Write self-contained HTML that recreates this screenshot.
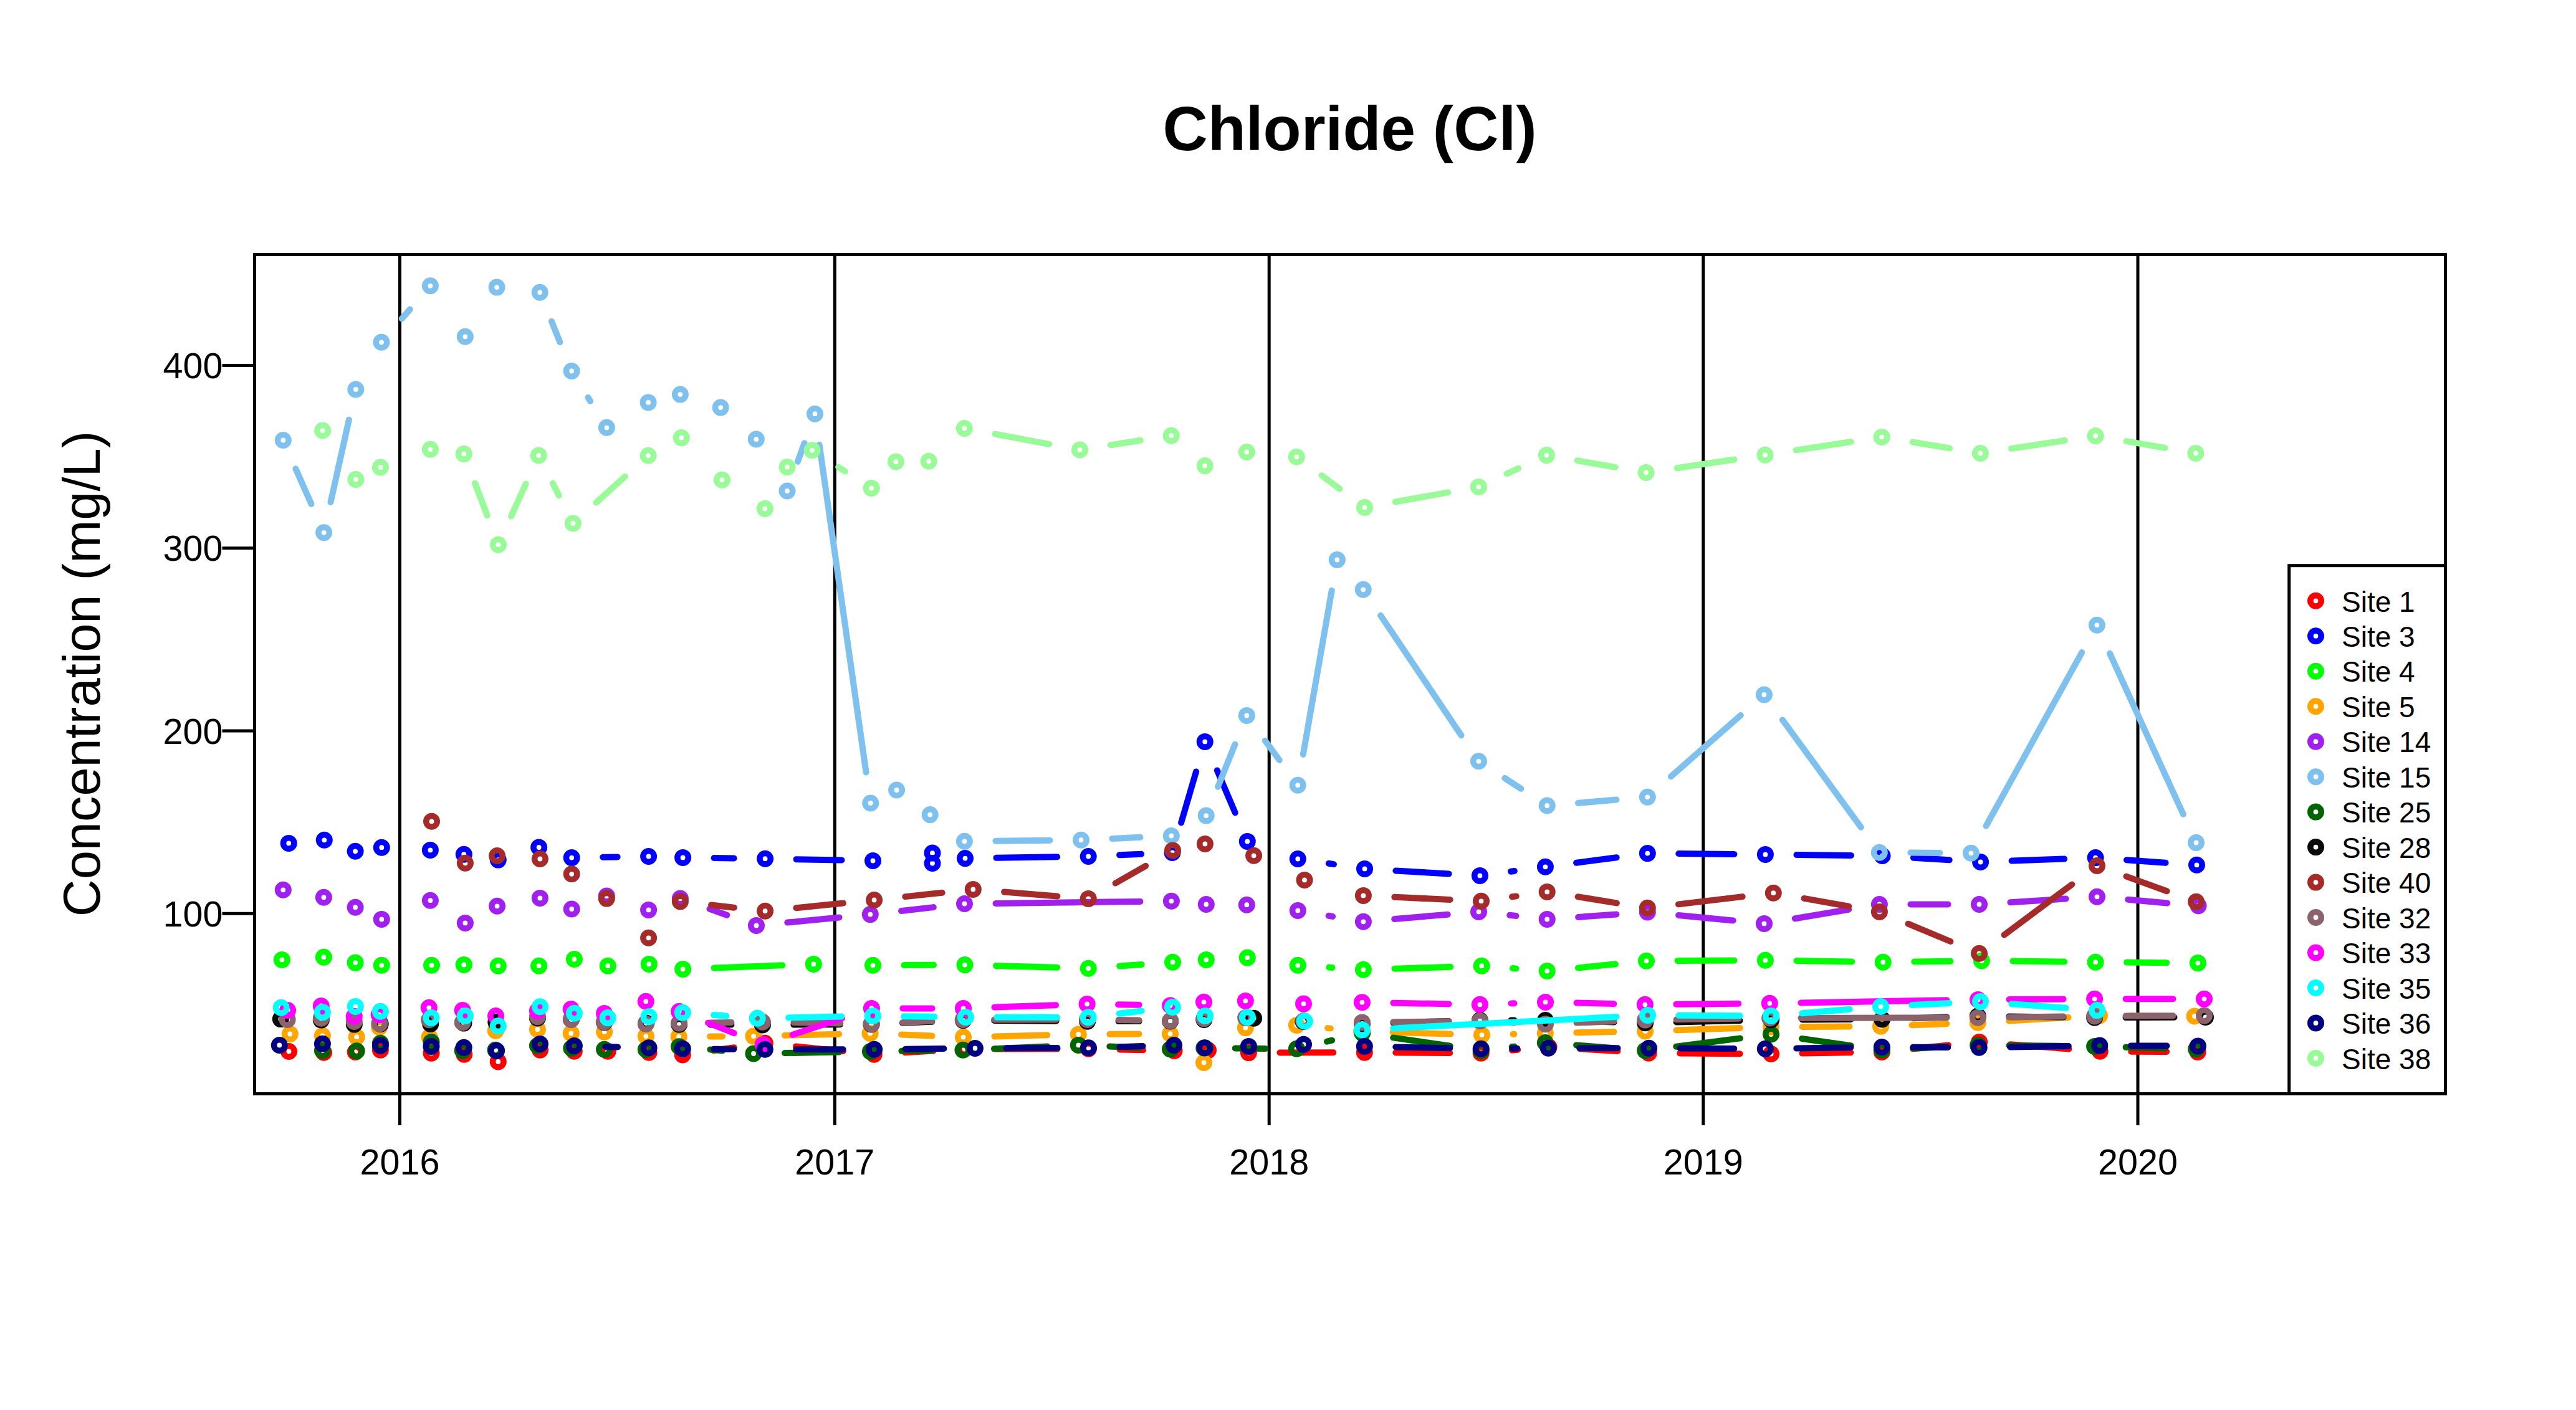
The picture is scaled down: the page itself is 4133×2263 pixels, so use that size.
<!DOCTYPE html>
<html lang="en"><head><meta charset="utf-8"><title>Chloride (Cl)</title>
<style>html,body{margin:0;padding:0;background:#fff}body{width:4133px;height:2263px;overflow:hidden}svg{display:block}text{font-family:"Liberation Sans",sans-serif;fill:#000}.ax{font-size:57.5px}.lg{font-size:46px}.k{stroke:#000;stroke-width:5;fill:none}.s{fill:none;stroke-width:10;stroke-linecap:round}.s circle{stroke-width:9.6}</style></head><body>
<svg width="4133" height="2263" viewBox="0 0 4133 2263">
<rect width="4133" height="2263" fill="#fff"/>
<text x="2165.5" y="240.7" text-anchor="middle" font-size="100" font-weight="bold">Chloride (Cl)</text>
<text transform="translate(160,1081.5) rotate(-90)" text-anchor="middle" font-size="83">Concentration (mg/L)</text>
<path class="k" d="M641.5 408.5V1806M1339.3 408.5V1806M2036.2 408.5V1806M2732.8 408.5V1806M3430 408.5V1806"/>
<text class="ax" x="641.5" y="1884.7" text-anchor="middle">2016</text>
<text class="ax" x="1339.3" y="1884.7" text-anchor="middle">2017</text>
<text class="ax" x="2036.2" y="1884.7" text-anchor="middle">2018</text>
<text class="ax" x="2732.8" y="1884.7" text-anchor="middle">2019</text>
<text class="ax" x="3430" y="1884.7" text-anchor="middle">2020</text>
<path class="k" d="M356.5 586.6H408.5M356.5 879.8H408.5M356.5 1173H408.5M356.5 1466.2H408.5"/>
<text class="ax" x="357.5" y="607.2" text-anchor="end">400</text>
<text class="ax" x="357.5" y="900.4" text-anchor="end">300</text>
<text class="ax" x="357.5" y="1193.6" text-anchor="end">200</text>
<text class="ax" x="357.5" y="1486.8" text-anchor="end">100</text>
<g class="s" stroke="#FF0000">
<path d="M1144.7 1686L1177.8 1681.3M1277 1679.4L1352.6 1687.2M1452.2 1689.3L1497.6 1686.5M1597.5 1683.4L1696.4 1683.4M1796.4 1684.4L1834 1685.3M2053.4 1689.5L2139.3 1689.3M2239.3 1689.5L2326.2 1689.9M2426 1685.6L2435.2 1684.8M2534.9 1683.3L2595.3 1687.1M2695.2 1690.5L2791.6 1691.2M2891.6 1690.6L2969.3 1689.3M3069 1683.3L3125.9 1677.5M3225.5 1676.2L3319.4 1683.5M3419.3 1687.7L3476.1 1688"/>
<circle cx="463.5" cy="1687.5" r="8.7"/><circle cx="519.5" cy="1689.2" r="8.7"/><circle cx="570.2" cy="1688.4" r="8.7"/><circle cx="610.4" cy="1685.3" r="8.7"/><circle cx="692" cy="1690.2" r="8.7"/><circle cx="744.7" cy="1692.3" r="8.7"/><circle cx="799.3" cy="1703.9" r="8.7"/><circle cx="866.5" cy="1685.3" r="8.7"/><circle cx="921.3" cy="1687.3" r="8.7"/><circle cx="975.2" cy="1687.3" r="8.7"/><circle cx="1041.1" cy="1689.2" r="8.7"/><circle cx="1095.2" cy="1693" r="8.7"/><circle cx="1227.3" cy="1674.3" r="8.7"/><circle cx="1402.3" cy="1692.3" r="8.7"/><circle cx="1547.5" cy="1683.5" r="8.7"/><circle cx="1746.4" cy="1683.3" r="8.7"/><circle cx="1884" cy="1686.4" r="8.7"/><circle cx="1938.5" cy="1685.6" r="8.7"/><circle cx="2003.4" cy="1689.6" r="8.7"/><circle cx="2189.3" cy="1689.2" r="8.7"/><circle cx="2376.2" cy="1690.2" r="8.7"/><circle cx="2485" cy="1680.2" r="8.7"/><circle cx="2645.2" cy="1690.2" r="8.7"/><circle cx="2841.6" cy="1691.5" r="8.7"/><circle cx="3019.3" cy="1688.4" r="8.7"/><circle cx="3175.6" cy="1672.4" r="8.7"/><circle cx="3369.3" cy="1687.3" r="8.7"/><circle cx="3526.1" cy="1688.4" r="8.7"/>
</g>
<g class="s" stroke="#0000FF">
<path d="M967.2 1375.7L990.6 1375.4M1145.6 1377.1L1177.6 1377.5M1277.6 1379.2L1350.5 1380.5M1598.5 1376.8L1696.2 1375.3M1796.1 1372.2L1831.1 1370.7M1895.1 1320.4L1919.1 1238.4M1952.8 1236.4L1981.7 1304.4M2131.8 1385.8L2140 1387.1M2239.4 1397.4L2324.5 1402.4M2424 1398.7L2429.8 1398M2529 1384.7L2593.7 1376.2M2693.3 1370.1L2782.4 1370.9M2882.4 1372L2970 1372.9M3069.9 1376.7L3127.7 1380.3M3227.6 1381.6L3312.1 1378.5M3412 1380.2L3474.6 1384.7"/>
<circle cx="463.2" cy="1353.4" r="8.7"/><circle cx="520.3" cy="1348.3" r="8.7"/><circle cx="570.1" cy="1366.3" r="8.7"/><circle cx="612.3" cy="1360.2" r="8.7"/><circle cx="690.4" cy="1364.4" r="8.7"/><circle cx="744.3" cy="1371.2" r="8.7"/><circle cx="799.3" cy="1380.1" r="8.7"/><circle cx="864.6" cy="1360" r="8.7"/><circle cx="917.2" cy="1376.6" r="8.7"/><circle cx="1040.6" cy="1374.5" r="8.7"/><circle cx="1095.6" cy="1376.4" r="8.7"/><circle cx="1227.6" cy="1378.2" r="8.7"/><circle cx="1400.5" cy="1381.5" r="8.7"/><circle cx="1496" cy="1385.5" r="8.7"/><circle cx="1496" cy="1369.1" r="8.7"/><circle cx="1548.5" cy="1377.6" r="8.7"/><circle cx="1746.2" cy="1374.5" r="8.7"/><circle cx="1881" cy="1368.4" r="8.7"/><circle cx="1933.2" cy="1190.4" r="8.7"/><circle cx="2001.3" cy="1350.4" r="8.7"/><circle cx="2082.3" cy="1378.5" r="8.7"/><circle cx="2189.5" cy="1394.4" r="8.7"/><circle cx="2374.4" cy="1405.4" r="8.7"/><circle cx="2479.4" cy="1391.3" r="8.7"/><circle cx="2643.3" cy="1369.6" r="8.7"/><circle cx="2832.4" cy="1371.4" r="8.7"/><circle cx="3020" cy="1373.5" r="8.7"/><circle cx="3177.6" cy="1383.5" r="8.7"/><circle cx="3362.1" cy="1376.6" r="8.7"/><circle cx="3524.5" cy="1388.3" r="8.7"/>
</g>
<g class="s" stroke="#00FF00">
<path d="M1145.6 1553.5L1255.3 1549.3M1450.5 1549.1L1498 1548.8M1598 1550L1696.2 1552.8M1796.1 1550.5L1831.6 1547.9M2132.2 1552.6L2137.5 1553M2237.4 1554.7L2327.2 1551.8M2427 1554.1L2432.4 1554.5M2531.9 1553.4L2591.8 1547.3M2691.5 1542L2782.4 1541.6M2882.4 1542.1L2971.2 1543.4M3071.2 1543.5L3129.4 1542.7M3229.4 1542.6L3312.1 1543.6M3412.1 1544.6L3476.4 1545.2"/>
<circle cx="452.4" cy="1540.4" r="8.7"/><circle cx="519.4" cy="1536.2" r="8.7"/><circle cx="570.1" cy="1545.1" r="8.7"/><circle cx="612.3" cy="1549.3" r="8.7"/><circle cx="692.5" cy="1549.3" r="8.7"/><circle cx="744.3" cy="1548.4" r="8.7"/><circle cx="799.3" cy="1550.2" r="8.7"/><circle cx="864.6" cy="1550.2" r="8.7"/><circle cx="921.4" cy="1539.5" r="8.7"/><circle cx="975.3" cy="1550.2" r="8.7"/><circle cx="1041.3" cy="1547.4" r="8.7"/><circle cx="1095.6" cy="1555.4" r="8.7"/><circle cx="1305.3" cy="1547.4" r="8.7"/><circle cx="1400.5" cy="1549.3" r="8.7"/><circle cx="1548" cy="1548.6" r="8.7"/><circle cx="1746.2" cy="1554.2" r="8.7"/><circle cx="1881.5" cy="1544.2" r="8.7"/><circle cx="1935.3" cy="1540.4" r="8.7"/><circle cx="2001.3" cy="1537.1" r="8.7"/><circle cx="2082.3" cy="1549.3" r="8.7"/><circle cx="2187.4" cy="1556.3" r="8.7"/><circle cx="2377.2" cy="1550.2" r="8.7"/><circle cx="2482.2" cy="1558.4" r="8.7"/><circle cx="2641.5" cy="1542.3" r="8.7"/><circle cx="2832.4" cy="1541.3" r="8.7"/><circle cx="3021.2" cy="1544.2" r="8.7"/><circle cx="3179.4" cy="1542" r="8.7"/><circle cx="3362.1" cy="1544.2" r="8.7"/><circle cx="3526.4" cy="1545.6" r="8.7"/>
</g>
<g class="s" stroke="#FFA500">
<path d="M1139.1 1663.6L1159 1663.4M1259 1661.8L1346.1 1659.7M1446.1 1660.5L1495.5 1662.5M1595.5 1663.4L1680.3 1661.2M1780.3 1659.7L1827.5 1659.5M2130.2 1650.1L2134.8 1650.6M2234.6 1656.8L2327.5 1659.6M2427.5 1659.8L2429.3 1659.7M2529.3 1657.3L2589.6 1656.1M2689.6 1653.3L2791.5 1650M2891.5 1648L2967.5 1647.5M3067.5 1645.3L3123.3 1643.2M3223.2 1638.4L3318.6 1632.9M3418.5 1630.3L3471 1630.7"/>
<circle cx="465.3" cy="1659.5" r="8.7"/><circle cx="517.4" cy="1662.3" r="8.7"/><circle cx="572.2" cy="1664.2" r="8.7"/><circle cx="608.7" cy="1648.8" r="8.7"/><circle cx="689" cy="1664.6" r="8.7"/><circle cx="743" cy="1640" r="8.7"/><circle cx="795.3" cy="1654.2" r="8.7"/><circle cx="862.4" cy="1652.2" r="8.7"/><circle cx="916.3" cy="1658.4" r="8.7"/><circle cx="969.6" cy="1656.1" r="8.7"/><circle cx="1036.3" cy="1663.1" r="8.7"/><circle cx="1089.1" cy="1663.9" r="8.7"/><circle cx="1209" cy="1663.1" r="8.7"/><circle cx="1396.1" cy="1658.4" r="8.7"/><circle cx="1545.5" cy="1664.6" r="8.7"/><circle cx="1730.3" cy="1660" r="8.7"/><circle cx="1877.5" cy="1659.2" r="8.7"/><circle cx="1931.5" cy="1705.5" r="8.7"/><circle cx="1998.3" cy="1649.6" r="8.7"/><circle cx="2080.4" cy="1645.4" r="8.7"/><circle cx="2184.6" cy="1655.3" r="8.7"/><circle cx="2377.5" cy="1661.1" r="8.7"/><circle cx="2479.3" cy="1658.4" r="8.7"/><circle cx="2639.6" cy="1655" r="8.7"/><circle cx="2841.5" cy="1648.3" r="8.7"/><circle cx="3017.5" cy="1647.2" r="8.7"/><circle cx="3173.3" cy="1641.3" r="8.7"/><circle cx="3368.5" cy="1630" r="8.7"/><circle cx="3521" cy="1631" r="8.7"/>
</g>
<g class="s" stroke="#A020F0">
<path d="M1138.5 1458.8L1166.4 1468.7M1263.3 1480.6L1346.5 1472.4M1446 1462L1497.8 1456.1M1597.5 1449.9L1829.4 1446.9M2131.6 1469.8L2138.1 1470.9M2237.2 1475L2322.7 1467.7M2422.2 1468.8L2432.5 1470M2532.1 1471.9L2593.4 1467.5M2693.1 1468.9L2780.7 1477.5M2879.8 1474.2L2966.1 1459.7M3065.4 1451.5L3125.5 1451.5M3225.4 1448.3L3314.6 1442.5M3414.3 1443.7L3477.3 1449.4"/>
<circle cx="454.3" cy="1428.3" r="8.7"/><circle cx="519.4" cy="1440.2" r="8.7"/><circle cx="570.1" cy="1456.2" r="8.7"/><circle cx="612.3" cy="1475.4" r="8.7"/><circle cx="690.4" cy="1445.2" r="8.7"/><circle cx="746.4" cy="1481.4" r="8.7"/><circle cx="797.6" cy="1454.3" r="8.7"/><circle cx="866.4" cy="1441.4" r="8.7"/><circle cx="917.2" cy="1459" r="8.7"/><circle cx="973.3" cy="1437.9" r="8.7"/><circle cx="1040.6" cy="1460.4" r="8.7"/><circle cx="1091.4" cy="1442.1" r="8.7"/><circle cx="1213.5" cy="1485.4" r="8.7"/><circle cx="1396.3" cy="1467.6" r="8.7"/><circle cx="1547.5" cy="1450.5" r="8.7"/><circle cx="1879.4" cy="1446.3" r="8.7"/><circle cx="1935.3" cy="1451.5" r="8.7"/><circle cx="2000.3" cy="1452.2" r="8.7"/><circle cx="2082.3" cy="1461.4" r="8.7"/><circle cx="2187.4" cy="1479.3" r="8.7"/><circle cx="2372.5" cy="1463.4" r="8.7"/><circle cx="2482.2" cy="1475.4" r="8.7"/><circle cx="2643.3" cy="1464" r="8.7"/><circle cx="2830.5" cy="1482.4" r="8.7"/><circle cx="3015.4" cy="1451.5" r="8.7"/><circle cx="3175.5" cy="1451.5" r="8.7"/><circle cx="3364.5" cy="1439.3" r="8.7"/><circle cx="3527.1" cy="1453.8" r="8.7"/>
</g>
<g class="s" stroke="#7EC0EE">
<path d="M474.4 752.3L499.5 809M530.5 806L559.9 673.8M644.7 511.5L657.7 496.6M884.9 515.7L898.4 549.1M943.4 638L947.1 643.8M1279.9 740.9L1290.6 711.3M1314.6 713.7L1389.6 1239.5M1597.4 1349.7L1684.5 1348.8M1784.4 1345.9L1829.4 1343.8M1954 1262.8L1981.5 1194.7M2029.8 1188.7L2052.7 1219.9M2090.8 1210.9L2136.7 947.7M2215.1 987.8L2344.5 1180.3M2414.4 1249L2440.2 1265.8M2532 1288.8L2593.5 1283.5M2680.9 1246.3L2792.8 1148M2859.9 1155.4L2985.8 1327.8M3065.3 1368.6L3112.4 1368.9M3186.6 1325.5L3340.2 1047.1M3385.1 1048.8L3502.9 1307"/>
<circle cx="454.3" cy="706.5" r="8.7"/><circle cx="519.6" cy="854.8" r="8.7"/><circle cx="570.8" cy="625" r="8.7"/><circle cx="612" cy="549.3" r="8.7"/><circle cx="690.4" cy="458.8" r="8.7"/><circle cx="746.3" cy="540.3" r="8.7"/><circle cx="797.1" cy="461.1" r="8.7"/><circle cx="866.2" cy="469.3" r="8.7"/><circle cx="917.1" cy="595.5" r="8.7"/><circle cx="973.4" cy="686.3" r="8.7"/><circle cx="1040.1" cy="645.9" r="8.7"/><circle cx="1091.4" cy="633.1" r="8.7"/><circle cx="1156.2" cy="654.1" r="8.7"/><circle cx="1213.3" cy="704.9" r="8.7"/><circle cx="1263" cy="788" r="8.7"/><circle cx="1307.5" cy="664.2" r="8.7"/><circle cx="1396.7" cy="1289" r="8.7"/><circle cx="1438.6" cy="1268" r="8.7"/><circle cx="1492.2" cy="1307.6" r="8.7"/><circle cx="1547.4" cy="1350.3" r="8.7"/><circle cx="1734.5" cy="1348.2" r="8.7"/><circle cx="1879.3" cy="1341.5" r="8.7"/><circle cx="1935.2" cy="1309.1" r="8.7"/><circle cx="2000.3" cy="1148.4" r="8.7"/><circle cx="2082.2" cy="1260.2" r="8.7"/><circle cx="2145.3" cy="898.4" r="8.7"/><circle cx="2187.2" cy="946.3" r="8.7"/><circle cx="2372.4" cy="1221.8" r="8.7"/><circle cx="2482.2" cy="1293" r="8.7"/><circle cx="2643.3" cy="1279.3" r="8.7"/><circle cx="2830.4" cy="1115" r="8.7"/><circle cx="3015.3" cy="1368.2" r="8.7"/><circle cx="3162.4" cy="1369.3" r="8.7"/><circle cx="3364.4" cy="1003.3" r="8.7"/><circle cx="3523.6" cy="1352.5" r="8.7"/>
</g>
<g class="s" stroke="#006400">
<path d="M1139.4 1684.4L1159.2 1686.3M1259 1690.1L1346.4 1688.5M1446.4 1686.8L1495 1686.1M1595 1683.2L1680.3 1679.5M1780.3 1679.5L1827.5 1681.6M1981.8 1682.4L2030.4 1682.9M2129 1671.7L2137.1 1669.7M2235.2 1665.4L2326.7 1678.8M2425.8 1680L2429.7 1679.6M2529.1 1677.4L2589.8 1682.2M2689.2 1679.7L2791.9 1666.4M2891 1667L2969.8 1678.3M3069.2 1682.7L3123.7 1680M3223.6 1677.9L3310.6 1678.9M3410.6 1680.7L3473.6 1682.4"/>
<circle cx="517.4" cy="1686.1" r="8.7"/><circle cx="572.2" cy="1686.8" r="8.7"/><circle cx="610.4" cy="1674.3" r="8.7"/><circle cx="692" cy="1672.4" r="8.7"/><circle cx="742.2" cy="1686.1" r="8.7"/><circle cx="795" cy="1685.3" r="8.7"/><circle cx="862.4" cy="1678.3" r="8.7"/><circle cx="916.8" cy="1682.2" r="8.7"/><circle cx="969.6" cy="1684.3" r="8.7"/><circle cx="1036.3" cy="1684.5" r="8.7"/><circle cx="1089.6" cy="1679.7" r="8.7"/><circle cx="1209" cy="1691" r="8.7"/><circle cx="1396.4" cy="1687.6" r="8.7"/><circle cx="1545" cy="1685.3" r="8.7"/><circle cx="1730.3" cy="1677.4" r="8.7"/><circle cx="1877.5" cy="1683.7" r="8.7"/><circle cx="1931.8" cy="1682" r="8.7"/><circle cx="2080.4" cy="1683.3" r="8.7"/><circle cx="2185.7" cy="1658.1" r="8.7"/><circle cx="2376.2" cy="1686.1" r="8.7"/><circle cx="2479.3" cy="1673.5" r="8.7"/><circle cx="2639.6" cy="1686.1" r="8.7"/><circle cx="2841.5" cy="1660" r="8.7"/><circle cx="3019.3" cy="1685.3" r="8.7"/><circle cx="3173.6" cy="1677.4" r="8.7"/><circle cx="3360.6" cy="1679.4" r="8.7"/><circle cx="3523.6" cy="1683.7" r="8.7"/>
</g>
<g class="s" stroke="#0A0A0A">
<path d="M1139.6 1644.4L1173.4 1644.6M1273.4 1644.6L1348 1644.3M1448 1641.8L1495.3 1639.8M1595.3 1638L1694.6 1638.8M1794.6 1639.1L1827.6 1639.1M2235.4 1641.5L2324.4 1639M2424.4 1637.5L2429.5 1637.5M2529.5 1638.8L2589.6 1640.5M2689.6 1640.5L2791.6 1638M2891.6 1636.5L2969.6 1636.1M3069.6 1634.2L3123.3 1632.5M3223.3 1631.5L3310.6 1632.6M3410.6 1633.1L3488.5 1632.7"/>
<circle cx="450.3" cy="1635.6" r="8.7"/><circle cx="515.3" cy="1637.1" r="8.7"/><circle cx="568.3" cy="1644.1" r="8.7"/><circle cx="610.2" cy="1643.4" r="8.7"/><circle cx="690.7" cy="1643.4" r="8.7"/><circle cx="744" cy="1642.1" r="8.7"/><circle cx="795.8" cy="1640.6" r="8.7"/><circle cx="862.4" cy="1634" r="8.7"/><circle cx="916.5" cy="1636" r="8.7"/><circle cx="969.6" cy="1640.9" r="8.7"/><circle cx="1036.8" cy="1642.1" r="8.7"/><circle cx="1089.6" cy="1644.1" r="8.7"/><circle cx="1223.4" cy="1644.9" r="8.7"/><circle cx="1398" cy="1644" r="8.7"/><circle cx="1545.3" cy="1637.6" r="8.7"/><circle cx="1744.6" cy="1639.2" r="8.7"/><circle cx="1877.6" cy="1639" r="8.7"/><circle cx="1931.8" cy="1636.4" r="8.7"/><circle cx="2011.6" cy="1634.3" r="8.7"/><circle cx="2091" cy="1639.5" r="8.7"/><circle cx="2185.4" cy="1643" r="8.7"/><circle cx="2374.4" cy="1637.5" r="8.7"/><circle cx="2479.5" cy="1637.5" r="8.7"/><circle cx="2639.6" cy="1641.8" r="8.7"/><circle cx="2841.6" cy="1636.7" r="8.7"/><circle cx="3019.6" cy="1635.9" r="8.7"/><circle cx="3173.3" cy="1630.8" r="8.7"/><circle cx="3360.6" cy="1633.3" r="8.7"/><circle cx="3538.5" cy="1632.5" r="8.7"/>
</g>
<g class="s" stroke="#A52A2A">
<path d="M1141.1 1452.5L1177.9 1456.7M1277.3 1457.2L1352.9 1449.5M1452.3 1439.1L1511.6 1432.8M1611.1 1431.4L1696.4 1438.4M1789.6 1417.5L1838.1 1389.8M2237.3 1439.8L2326.6 1443.9M2426 1439.3L2432.7 1438.4M2531.6 1439.3L2593.9 1449.4M2692.9 1451.4L2795.7 1439.1M2894.5 1441.9L2966.2 1454.7M3061.5 1482.7L3129.4 1511M3215.6 1500.4L3324.4 1419.4M3411.5 1406.6L3476.6 1430.2"/>
<circle cx="692.5" cy="1318.3" r="8.7"/><circle cx="746.4" cy="1385.3" r="8.7"/><circle cx="797.6" cy="1373.5" r="8.7"/><circle cx="866.4" cy="1378.5" r="8.7"/><circle cx="917.2" cy="1402.8" r="8.7"/><circle cx="973.3" cy="1442.1" r="8.7"/><circle cx="1040.6" cy="1505.3" r="8.7"/><circle cx="1091.4" cy="1447" r="8.7"/><circle cx="1227.6" cy="1462.2" r="8.7"/><circle cx="1402.6" cy="1444.5" r="8.7"/><circle cx="1561.3" cy="1427.4" r="8.7"/><circle cx="1746.2" cy="1442.4" r="8.7"/><circle cx="1881.5" cy="1364.9" r="8.7"/><circle cx="1933.4" cy="1354.4" r="8.7"/><circle cx="2011.6" cy="1373.3" r="8.7"/><circle cx="2093" cy="1412.4" r="8.7"/><circle cx="2187.4" cy="1437.4" r="8.7"/><circle cx="2376.5" cy="1446.3" r="8.7"/><circle cx="2482.2" cy="1431.4" r="8.7"/><circle cx="2643.3" cy="1457.3" r="8.7"/><circle cx="2845.3" cy="1433.2" r="8.7"/><circle cx="3015.4" cy="1463.4" r="8.7"/><circle cx="3175.5" cy="1530.3" r="8.7"/><circle cx="3364.5" cy="1389.5" r="8.7"/><circle cx="3523.6" cy="1447.3" r="8.7"/>
</g>
<g class="s" stroke="#8B636C">
<path d="M1139.6 1641.4L1173.4 1640.9M1273.4 1641.1L1348.3 1642.5M1448.2 1641L1495.4 1638.8M1595.3 1636.4L1694.6 1636.4M1794.6 1637.1L1827.6 1637.5M2235.4 1640.3L2324.4 1639.3M2424.3 1641.1L2429.6 1641.3M2529.5 1641.6L2589.6 1639.2M2689.6 1636.3L2789.6 1634.8M2889.6 1633.9L3123.3 1633.4M3223.3 1632.7L3310.6 1631.5M3410.6 1630.6L3486.5 1630.3"/>
<circle cx="461.1" cy="1636.4" r="8.7"/><circle cx="515.3" cy="1634.3" r="8.7"/><circle cx="568.3" cy="1639.5" r="8.7"/><circle cx="608.8" cy="1642.9" r="8.7"/><circle cx="688.6" cy="1636.7" r="8.7"/><circle cx="742.2" cy="1641" r="8.7"/><circle cx="862.4" cy="1631.7" r="8.7"/><circle cx="916.3" cy="1636.4" r="8.7"/><circle cx="969.3" cy="1640.2" r="8.7"/><circle cx="1036.3" cy="1643.4" r="8.7"/><circle cx="1089.6" cy="1642.1" r="8.7"/><circle cx="1223.4" cy="1640.2" r="8.7"/><circle cx="1398.3" cy="1643.4" r="8.7"/><circle cx="1545.3" cy="1636.4" r="8.7"/><circle cx="1744.6" cy="1636.4" r="8.7"/><circle cx="1877.6" cy="1638.2" r="8.7"/><circle cx="1931.8" cy="1634.8" r="8.7"/><circle cx="1998.6" cy="1633.6" r="8.7"/><circle cx="2091.8" cy="1638.5" r="8.7"/><circle cx="2185.4" cy="1640.9" r="8.7"/><circle cx="2374.4" cy="1638.7" r="8.7"/><circle cx="2479.5" cy="1643.7" r="8.7"/><circle cx="2639.6" cy="1637.1" r="8.7"/><circle cx="2839.6" cy="1634" r="8.7"/><circle cx="3173.3" cy="1633.3" r="8.7"/><circle cx="3360.6" cy="1630.9" r="8.7"/><circle cx="3536.5" cy="1630" r="8.7"/>
</g>
<g class="s" stroke="#FF00FF">
<path d="M1136.1 1641.7L1177.7 1658.2M1271.6 1660.8L1351 1634.2M1448.4 1618.4L1495.5 1618.4M1595.5 1616.6L1694.1 1613.2M1794.1 1612.3L1827.6 1612.8M2235.4 1609.7L2324.4 1611.3M2424.4 1610.4L2429.5 1610.3M2529.5 1609.6L2589.3 1611.1M2689.3 1611.8L2789.3 1610.8M2889.3 1609.4L3123.6 1605.3M3223.6 1604.1L3310.6 1603.6M3410.6 1603.3L3486.5 1603.3"/>
<circle cx="461.6" cy="1621.5" r="8.7"/><circle cx="515.3" cy="1614.5" r="8.7"/><circle cx="568.3" cy="1631.2" r="8.7"/><circle cx="608.2" cy="1628.6" r="8.7"/><circle cx="688.3" cy="1617.3" r="8.7"/><circle cx="742.2" cy="1621.5" r="8.7"/><circle cx="795.5" cy="1630.5" r="8.7"/><circle cx="862.4" cy="1622.4" r="8.7"/><circle cx="916.3" cy="1619.6" r="8.7"/><circle cx="969.6" cy="1626.4" r="8.7"/><circle cx="1036.3" cy="1607.2" r="8.7"/><circle cx="1089.6" cy="1623.3" r="8.7"/><circle cx="1224.2" cy="1676.6" r="8.7"/><circle cx="1398.4" cy="1618.4" r="8.7"/><circle cx="1545.5" cy="1618.4" r="8.7"/><circle cx="1744.1" cy="1611.4" r="8.7"/><circle cx="1877.6" cy="1613.7" r="8.7"/><circle cx="1931.5" cy="1608.3" r="8.7"/><circle cx="1998.3" cy="1606.4" r="8.7"/><circle cx="2091.5" cy="1611.1" r="8.7"/><circle cx="2185.4" cy="1608.7" r="8.7"/><circle cx="2374.4" cy="1612.3" r="8.7"/><circle cx="2479.5" cy="1608.4" r="8.7"/><circle cx="2639.3" cy="1612.3" r="8.7"/><circle cx="2839.3" cy="1610.3" r="8.7"/><circle cx="3173.6" cy="1604.4" r="8.7"/><circle cx="3360.6" cy="1603.3" r="8.7"/><circle cx="3536.5" cy="1603.3" r="8.7"/>
</g>
<g class="s" stroke="#00FFFF">
<path d="M1145.2 1629L1165.3 1630.6M1265.2 1633.3L1350.3 1631.5M1450.3 1631.2L1499.4 1631.8M1599.4 1632.6L1696.1 1632.7M1795.7 1626.8L1831.8 1622.5M2235.3 1650.4L2593.6 1632M2693.5 1629.7L2791.5 1630.2M2891.3 1626.2L2967.7 1619.7M3067.4 1613L3127.6 1610M3227.4 1611.3L3314.7 1617.8"/>
<circle cx="451.1" cy="1617.3" r="8.7"/><circle cx="517.4" cy="1624.6" r="8.7"/><circle cx="570.3" cy="1615.4" r="8.7"/><circle cx="610.4" cy="1623.2" r="8.7"/><circle cx="692" cy="1633.6" r="8.7"/><circle cx="746.4" cy="1630.5" r="8.7"/><circle cx="799.3" cy="1646.8" r="8.7"/><circle cx="866.5" cy="1615.7" r="8.7"/><circle cx="921.4" cy="1626.3" r="8.7"/><circle cx="975.2" cy="1633.6" r="8.7"/><circle cx="1041.1" cy="1631.7" r="8.7"/><circle cx="1095.3" cy="1625.3" r="8.7"/><circle cx="1215.2" cy="1634.3" r="8.7"/><circle cx="1400.3" cy="1630.5" r="8.7"/><circle cx="1549.4" cy="1632.5" r="8.7"/><circle cx="1746.1" cy="1632.8" r="8.7"/><circle cx="1881.4" cy="1616.5" r="8.7"/><circle cx="1933.5" cy="1630.5" r="8.7"/><circle cx="2001.4" cy="1632.8" r="8.7"/><circle cx="2093.3" cy="1639" r="8.7"/><circle cx="2185.4" cy="1653" r="8.7"/><circle cx="2643.5" cy="1629.4" r="8.7"/><circle cx="2841.5" cy="1630.5" r="8.7"/><circle cx="3017.5" cy="1615.4" r="8.7"/><circle cx="3177.5" cy="1607.6" r="8.7"/><circle cx="3364.6" cy="1621.5" r="8.7"/>
</g>
<g class="s" stroke="#000080">
<path d="M971.4 1679.9L991.1 1680.4M1145.3 1683.7L1177.3 1683.9M1277.3 1684.3L1352.6 1684.3M1452.6 1683.7L1514.4 1683.1M1614.4 1682.3L1696.4 1681.9M1796.4 1680.2L1833.5 1679M2239.3 1680.4L2326.2 1682.3M2426.2 1682.8L2434.2 1682.7M2534.2 1682.2L2595.5 1682.2M2695.5 1682.5L2782.3 1683M2882.3 1682.6L2969.3 1681.3M3069.3 1680.8L3125.2 1681M3225.2 1680.4L3318.8 1678.9M3418.8 1678.4L3476.4 1678.6"/>
<circle cx="448.3" cy="1677.5" r="8.7"/><circle cx="517.4" cy="1675.3" r="8.7"/><circle cx="610.4" cy="1678.1" r="8.7"/><circle cx="692" cy="1679.4" r="8.7"/><circle cx="744.2" cy="1681.2" r="8.7"/><circle cx="796.6" cy="1686.4" r="8.7"/><circle cx="866.5" cy="1675.5" r="8.7"/><circle cx="921.4" cy="1678.6" r="8.7"/><circle cx="1041.1" cy="1681.7" r="8.7"/><circle cx="1095.3" cy="1683.3" r="8.7"/><circle cx="1227.3" cy="1684.3" r="8.7"/><circle cx="1402.6" cy="1684.3" r="8.7"/><circle cx="1564.4" cy="1682.5" r="8.7"/><circle cx="1746.4" cy="1681.7" r="8.7"/><circle cx="1883.5" cy="1677.5" r="8.7"/><circle cx="1933.1" cy="1681.7" r="8.7"/><circle cx="2003.4" cy="1679.4" r="8.7"/><circle cx="2091.5" cy="1676.3" r="8.7"/><circle cx="2189.3" cy="1679.4" r="8.7"/><circle cx="2376.2" cy="1683.3" r="8.7"/><circle cx="2484.2" cy="1682.2" r="8.7"/><circle cx="2645.5" cy="1682.2" r="8.7"/><circle cx="2832.3" cy="1683.3" r="8.7"/><circle cx="3019.3" cy="1680.6" r="8.7"/><circle cx="3175.2" cy="1681.2" r="8.7"/><circle cx="3368.8" cy="1678.1" r="8.7"/><circle cx="3526.4" cy="1678.9" r="8.7"/>
</g>
<g class="s" stroke="#98FB98">
<path d="M762 775.4L781.8 827.4M820.1 828.6L843.7 776.6M886.9 775.6L896.8 795.4M956.6 806.5L1002.9 764.8M1345.2 749.6L1356 756.6M1596.5 696.7L1683.3 712.8M1781.9 714.3L1829.8 706.8M2120.4 763.1L2149.3 784.6M2238.6 805.5L2323.2 790.3M2417.7 760.3L2436.1 751.7M2530.7 739.2L2591.7 749.9M2690.5 751.2L2782.5 737.5M2881.4 722.6L2969.8 709M3068.5 709.5L3128.1 719.4M3226.8 720L3312.8 707M3411.5 708.1L3473.6 718.9"/>
<circle cx="517.6" cy="691" r="8.7"/><circle cx="570.8" cy="769.4" r="8.7"/><circle cx="610.4" cy="750" r="8.7"/><circle cx="690.4" cy="721.2" r="8.7"/><circle cx="744.3" cy="728.6" r="8.7"/><circle cx="799.5" cy="874.2" r="8.7"/><circle cx="864.3" cy="731" r="8.7"/><circle cx="919.4" cy="840" r="8.7"/><circle cx="1040.1" cy="731.3" r="8.7"/><circle cx="1093.3" cy="702.6" r="8.7"/><circle cx="1158.5" cy="770.2" r="8.7"/><circle cx="1227.3" cy="816.4" r="8.7"/><circle cx="1263" cy="749.6" r="8.7"/><circle cx="1303" cy="722.8" r="8.7"/><circle cx="1398.2" cy="783.4" r="8.7"/><circle cx="1437.4" cy="741" r="8.7"/><circle cx="1490.2" cy="740.3" r="8.7"/><circle cx="1547.3" cy="687.5" r="8.7"/><circle cx="1732.5" cy="722" r="8.7"/><circle cx="1879.2" cy="699.1" r="8.7"/><circle cx="1933.2" cy="747.6" r="8.7"/><circle cx="2000.3" cy="725.5" r="8.7"/><circle cx="2080.3" cy="733.3" r="8.7"/><circle cx="2189.4" cy="814.4" r="8.7"/><circle cx="2372.4" cy="781.4" r="8.7"/><circle cx="2481.4" cy="730.6" r="8.7"/><circle cx="2641" cy="758.5" r="8.7"/><circle cx="2832" cy="730.2" r="8.7"/><circle cx="3019.2" cy="701.4" r="8.7"/><circle cx="3177.4" cy="727.5" r="8.7"/><circle cx="3362.2" cy="699.5" r="8.7"/><circle cx="3522.9" cy="727.5" r="8.7"/>
</g>
<rect class="k" x="408.5" y="408.5" width="3515" height="1347"/>
<rect x="3672.7" y="907.7" width="250.8" height="847.8" fill="#fff" stroke="#000" stroke-width="5"/>
<circle cx="3715.5" cy="964.3" r="8.7" fill="none" stroke="#FF0000" stroke-width="9.6"/><text class="lg" x="3757" y="981.5">Site 1</text>
<circle cx="3715.5" cy="1020.8" r="8.7" fill="none" stroke="#0000FF" stroke-width="9.6"/><text class="lg" x="3757" y="1038">Site 3</text>
<circle cx="3715.5" cy="1077.2" r="8.7" fill="none" stroke="#00FF00" stroke-width="9.6"/><text class="lg" x="3757" y="1094.4">Site 4</text>
<circle cx="3715.5" cy="1133.7" r="8.7" fill="none" stroke="#FFA500" stroke-width="9.6"/><text class="lg" x="3757" y="1150.9">Site 5</text>
<circle cx="3715.5" cy="1190.2" r="8.7" fill="none" stroke="#A020F0" stroke-width="9.6"/><text class="lg" x="3757" y="1207.4">Site 14</text>
<circle cx="3715.5" cy="1246.7" r="8.7" fill="none" stroke="#7EC0EE" stroke-width="9.6"/><text class="lg" x="3757" y="1263.9">Site 15</text>
<circle cx="3715.5" cy="1303.1" r="8.7" fill="none" stroke="#006400" stroke-width="9.6"/><text class="lg" x="3757" y="1320.3">Site 25</text>
<circle cx="3715.5" cy="1359.6" r="8.7" fill="none" stroke="#0A0A0A" stroke-width="9.6"/><text class="lg" x="3757" y="1376.8">Site 28</text>
<circle cx="3715.5" cy="1416.1" r="8.7" fill="none" stroke="#A52A2A" stroke-width="9.6"/><text class="lg" x="3757" y="1433.3">Site 40</text>
<circle cx="3715.5" cy="1472.5" r="8.7" fill="none" stroke="#8B636C" stroke-width="9.6"/><text class="lg" x="3757" y="1489.7">Site 32</text>
<circle cx="3715.5" cy="1529" r="8.7" fill="none" stroke="#FF00FF" stroke-width="9.6"/><text class="lg" x="3757" y="1546.2">Site 33</text>
<circle cx="3715.5" cy="1585.5" r="8.7" fill="none" stroke="#00FFFF" stroke-width="9.6"/><text class="lg" x="3757" y="1602.7">Site 35</text>
<circle cx="3715.5" cy="1641.9" r="8.7" fill="none" stroke="#000080" stroke-width="9.6"/><text class="lg" x="3757" y="1659.1">Site 36</text>
<circle cx="3715.5" cy="1698.4" r="8.7" fill="none" stroke="#98FB98" stroke-width="9.6"/><text class="lg" x="3757" y="1715.6">Site 38</text>
</svg></body></html>
